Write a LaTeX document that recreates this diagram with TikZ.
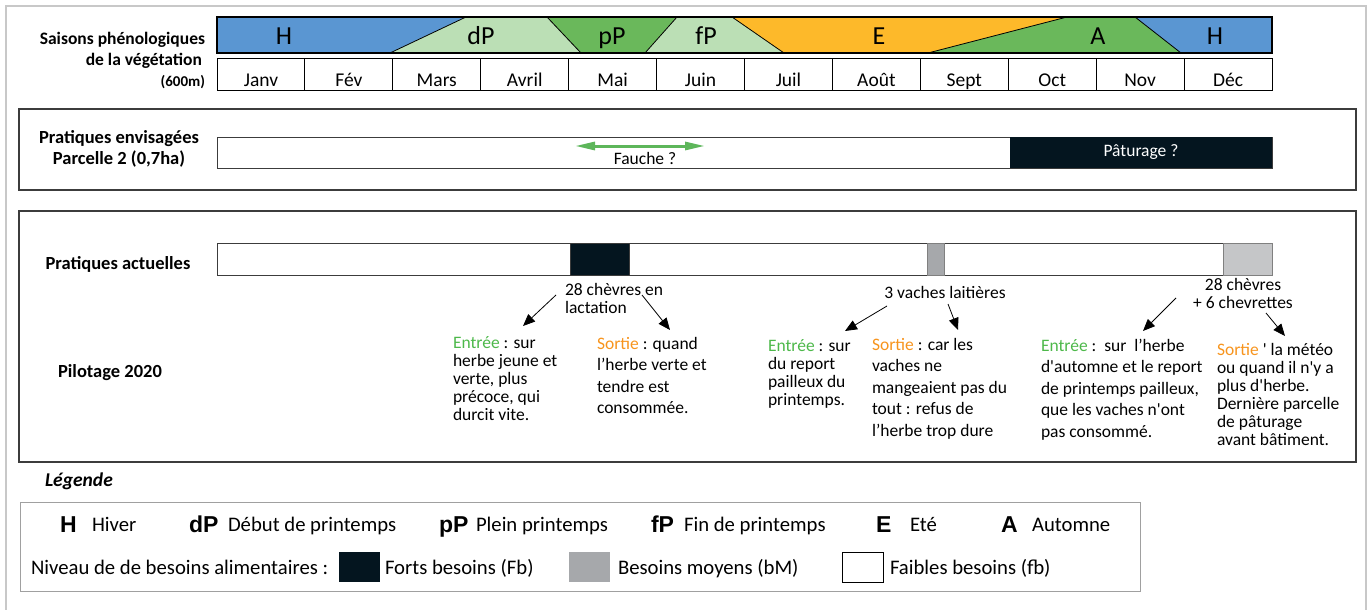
\documentclass[tikz,border=0pt]{standalone}
\usepackage{fontspec}
\setmainfont{Carlito}
\newfontfamily\legfont{Liberation Sans}
\usetikzlibrary{arrows.meta}
\definecolor{hblue}{HTML}{5A96D2}
\definecolor{lgreen}{HTML}{BBDFB5}
\definecolor{mgreen}{HTML}{6AB85B}
\definecolor{orangeE}{HTML}{FDB92A}
\definecolor{fortnoir}{HTML}{04151F}
\definecolor{moyengris}{HTML}{A6A8AB}
\definecolor{clairgris}{HTML}{C5C6C8}
\definecolor{entree}{HTML}{4DB84A}
\definecolor{sortie}{HTML}{F7941D}
\definecolor{framegray}{HTML}{C8C8C8}
\definecolor{boxline}{HTML}{3C3C3C}
\definecolor{faucheg}{HTML}{5DB65A}
\definecolor{leggray}{HTML}{A0A0A0}
\begin{document}
\begin{tikzpicture}[x=1pt,y=-1pt,
  every node/.style={inner sep=0pt, outer sep=0pt},
  seasonlbl/.style={font=\fontsize{26}{28}\selectfont, anchor=base},
  monthcell/.style={draw=black, line width=1pt, minimum width=87.92pt, minimum height=31pt, text height=23pt, text depth=0pt, font=\fontsize{19.5}{21}\selectfont},
  sidelbl/.style={font=\bfseries\fontsize{17.5}{21}\selectfont},
  pracl/.style={font=\bfseries\fontsize{18.5}{21.5}\selectfont},
  annot/.style={font=\fontsize{17.5}{18}\selectfont, align=left, anchor=north west},
  annotw/.style={font=\fontsize{17.5}{21.5}\selectfont, align=left, anchor=north west},
  ptr/.style={-{Triangle[length=12pt,width=10pt]}, line width=0.8pt},
  boxframe/.style={draw=boxline, line width=1.3pt},
  barframe/.style={draw=boxline, line width=1pt},
  legletter/.style={font=\legfont\bfseries\fontsize{23}{26}\selectfont, anchor=base west},
  legtext/.style={font=\fontsize{20.7}{23}\selectfont, anchor=base west},
  legsq/.style={minimum width=41pt, minimum height=30pt, anchor=west}
]
\useasboundingbox (0,0) rectangle (1370,610);
% outer frame
\draw[framegray, line width=1.5pt] (6,620) -- (6,6) -- (1366,6) -- (1366,620);

% ---- seasons band
\fill[hblue] (217,17) -- (466,17) -- (390,53) -- (217,53) -- cycle;
\fill[lgreen] (466,17) -- (547,17) -- (581,53) -- (390,53) -- cycle;
\fill[mgreen] (547,17) -- (677,17) -- (645,53) -- (581,53) -- cycle;
\fill[lgreen] (677,17) -- (732,17) -- (784,53) -- (645,53) -- cycle;
\fill[orangeE] (732,17) -- (1067,17) -- (928,53) -- (784,53) -- cycle;
\fill[mgreen] (1067,17) -- (1135,17) -- (1181,53) -- (928,53) -- cycle;
\fill[hblue] (1135,17) -- (1272,17) -- (1272,53) -- (1181,53) -- cycle;
\draw[line width=0.8pt] (466,17) -- (390,53) (547,17) -- (581,53) (677,17) -- (645,53)
  (732,17) -- (784,53) (1067,17) -- (928,53) (1135,17) -- (1181,53);
\draw[line width=1.2pt] (217,17) rectangle (1272,53);
\node[seasonlbl] (sH1) at (284,44.5) {H};
\node[seasonlbl] (sdP) at (481,44.5) {dP};
\node[seasonlbl] (spP) at (612,44.5) {pP};
\node[seasonlbl] (sfP) at (706,44.5) {fP};
\node[seasonlbl] (sE) at (879,44.5) {E};
\node[seasonlbl] (sA) at (1098,44.5) {A};
\node[seasonlbl] (sH2) at (1215,44.5) {H};

% months
\foreach \m [count=\i] in {Janv,Fév,Mars,Avril,Mai,Juin,Juil,Août,Sept,Oct,Nov,Déc}
  \node[monthcell] (m\i) at ({217+87.917*(\i-0.5)},74.5) {\m};

\node[sidelbl, anchor=east] (sais1) at (205,40) {Saisons phénologiques};
\node[sidelbl, anchor=east] (sais2) at (202,61) {de la végétation};
\node[font=\bfseries\fontsize{15}{18}\selectfont, anchor=east] (sais3) at (205,82) {(600m)};

% ---- pratiques envisagées
\draw[boxframe] (19,109) rectangle (1356,190);
\draw[barframe] (217,137) rectangle (1272,168);
\fill[fortnoir] (1010,137) rectangle (1272,168);
\node[font=\fontsize{17.5}{20}\selectfont, text=white] (patur) at (1141,152) {Pâturage ?};
\node[pracl, align=center] (envis) at (119,149) {Pratiques envisagées\\Parcelle 2 (0,7ha)};
\coordinate (fa) at (575,146);
\coordinate (fb) at (705,146);
\draw[faucheg, line width=3pt, {Triangle[length=20pt,width=8pt]}-{Triangle[length=20pt,width=8pt]}] (fa) -- (fb);
\node[font=\fontsize{17.5}{20}\selectfont] (fauche) at (645,158) {Fauche ?};

% ---- pratiques actuelles
\draw[boxframe] (19,211) rectangle (1356,462);
\draw[barframe] (217,243) rectangle (1272,275);
\filldraw[fortnoir, draw=boxline] (570,243) rectangle (629,275);
\filldraw[moyengris, draw=gray] (927,243) rectangle (944,275);
\filldraw[clairgris, draw=gray] (1223,243) rectangle (1272,275);
\node[pracl] (pract) at (118,264) {Pratiques actuelles};
\node[pracl] (pilot) at (110,373) {Pilotage 2020};

\node[annot, font=\fontsize{17.5}{16.5}\selectfont] (lab1) at (565,283) {\strut 28 chèvres en\\lactation};
\node[annot] (e1) at (453,336) {\strut{\color{entree}Entrée} : sur\\herbe jeune et\\verte, plus\\précoce, qui\\durcit vite.};
\node[annotw] (s1) at (597,334) {\strut{\color{sortie}Sortie} : quand\\l’herbe verte et\\tendre est\\consommée.};
\coordinate (a1s) at (556,295);
\coordinate (a1e) at (523,326);
\coordinate (a2s) at (642,295);
\coordinate (a2e) at (670,330);
\draw[ptr] (a1s) -- (a1e);
\draw[ptr] (a2s) -- (a2e);

\node[font=\fontsize{17.5}{20}\selectfont] (lab2) at (945,292) {3 vaches laitières};
\node[annot] (e2) at (768,339) {\strut{\color{entree}Entrée} : sur\\du report\\pailleux du\\printemps.};
\node[annotw] (s2) at (872,335) {\strut{\color{sortie}Sortie} : car les\\vaches ne\\mangeaient pas du\\tout : refus de\\l’herbe trop dure};
\coordinate (b1s) at (887,306);
\coordinate (b1e) at (845,331);
\coordinate (b2s) at (948,304);
\coordinate (b2e) at (958,330);
\draw[ptr] (b1s) -- (b1e);
\draw[ptr] (b2s) -- (b2e);

\node[font=\fontsize{17.5}{18}\selectfont, align=center] (lab3) at (1243,293) {28 chèvres\\+ 6 chevrettes};
\node[annotw] (e3) at (1041,336) {\strut{\color{entree}Entrée} :\ \ sur\ \ l’herbe\\d\textquotesingle automne et le report\\de printemps pailleux,\\que les vaches n\textquotesingle ont\\pas consommé.};
\node[annot] (s3) at (1217,343) {\strut{\color{sortie}Sortie} \textquotesingle\ la météo\\ou quand il n\textquotesingle y a\\plus d\textquotesingle herbe.\\Dernière parcelle\\de pâturage\\avant bâtiment.};
\coordinate (c1s) at (1176,298);
\coordinate (c1e) at (1143,331);
\coordinate (c2s) at (1266,313);
\coordinate (c2e) at (1285,336);
\draw[ptr] (c1s) -- (c1e);
\draw[ptr] (c2s) -- (c2e);

% ---- légende
\node[font=\bfseries\itshape\fontsize{19.5}{22}\selectfont, anchor=west] (leg) at (45,481) {Légende};
\draw[leggray, line width=1pt] (20,502) rectangle (1140,591);
\node[legletter] (lH) at (60,532) {H};
\node[legtext] (tH) at (92,531) {Hiver};
\node[legletter] (ldP) at (189,532) {dP};
\node[legtext] (tdP) at (228,531) {Début de printemps};
\node[legletter] (lpP) at (439,532) {pP};
\node[legtext] (tpP) at (476,531) {Plein printemps};
\node[legletter] (lfP) at (651,532) {fP};
\node[legtext] (tfP) at (684,531) {Fin de printemps};
\node[legletter] (lE) at (876,532) {E};
\node[legtext] (tE) at (910,531) {Eté};
\node[legletter] (lA) at (1001,532) {A};
\node[legtext] (tA) at (1032,531) {Automne};
\node[legtext] (niv) at (31,574) {Niveau de de besoins alimentaires :};
\node[legsq, fill=fortnoir] (sqF) at (339,567) {};
\node[legtext] (tF) at (385,574) {Forts besoins (Fb)};
\node[legsq, fill=moyengris] (sqM) at (569,567) {};
\node[legtext] (tM) at (618,574) {Besoins moyens (bM)};
\node[legsq, draw=black, line width=0.8pt] (sqf) at (842,567) {};
\node[legtext] (tf) at (890,574) {Faibles besoins (fb)};
\end{tikzpicture}
\end{document}
